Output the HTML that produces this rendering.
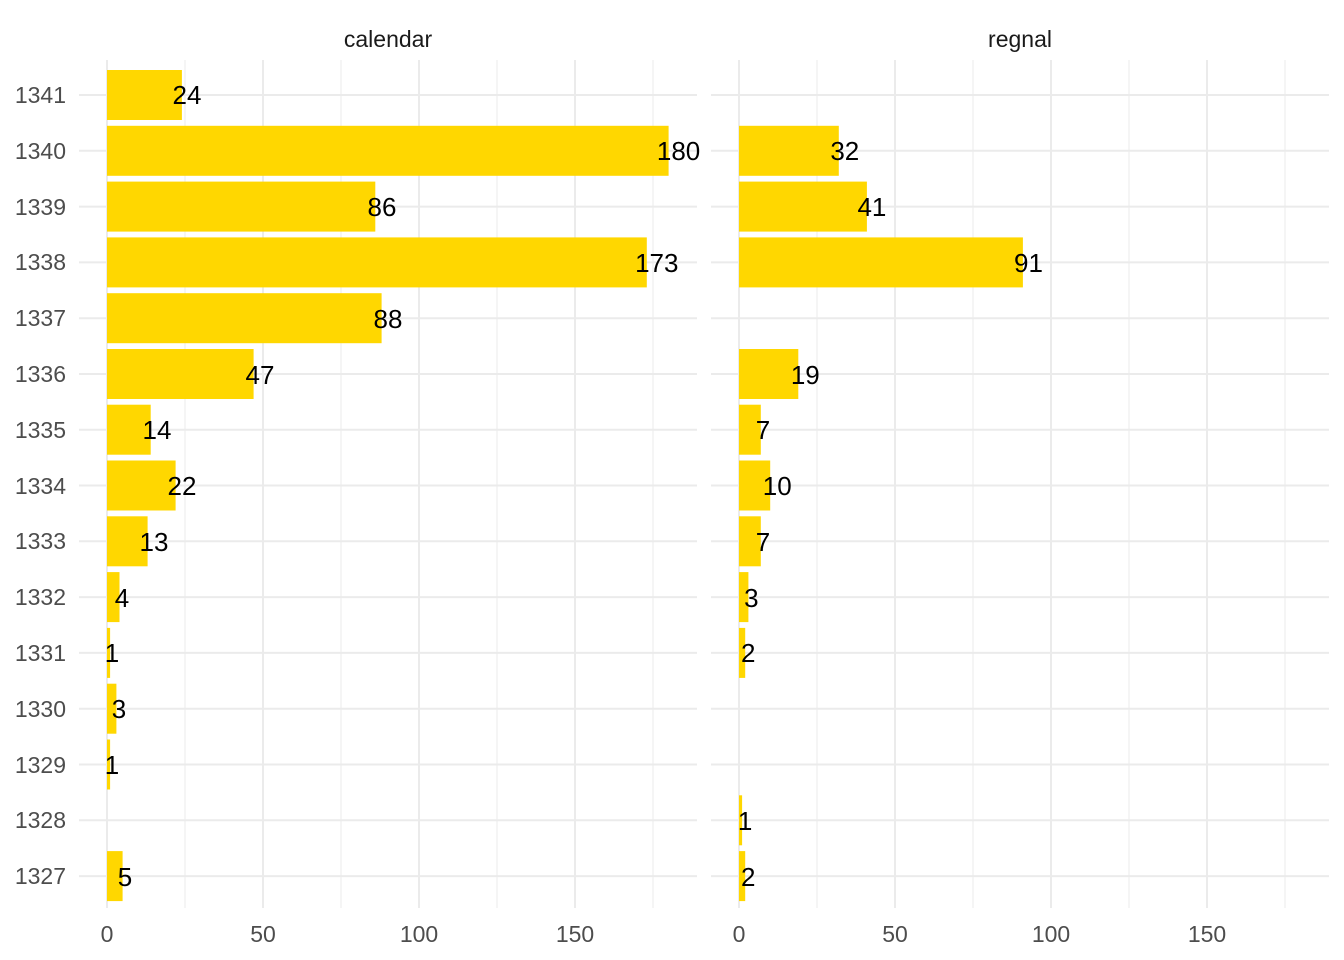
<!DOCTYPE html>
<html><head><meta charset="utf-8"><style>body{margin:0;background:#fff}svg{display:block}</style></head><body>
<svg width="1344" height="960" xmlns="http://www.w3.org/2000/svg" font-family="Liberation Sans, Arial, sans-serif">
<g stroke="#ebebeb">
<g stroke-width="1"><line x1="185" y1="60" x2="185" y2="908"/><line x1="341" y1="60" x2="341" y2="908"/><line x1="497" y1="60" x2="497" y2="908"/><line x1="653" y1="60" x2="653" y2="908"/>
<line x1="817" y1="60" x2="817" y2="908"/><line x1="973" y1="60" x2="973" y2="908"/><line x1="1129" y1="60" x2="1129" y2="908"/><line x1="1285" y1="60" x2="1285" y2="908"/></g>
<g stroke-width="2"><line x1="107" y1="60" x2="107" y2="908"/><line x1="263" y1="60" x2="263" y2="908"/><line x1="419" y1="60" x2="419" y2="908"/><line x1="575" y1="60" x2="575" y2="908"/>
<line x1="739" y1="60" x2="739" y2="908"/><line x1="895" y1="60" x2="895" y2="908"/><line x1="1051" y1="60" x2="1051" y2="908"/><line x1="1207" y1="60" x2="1207" y2="908"/></g>
<g stroke-width="2">
<line x1="79" x2="697" y1="95" y2="95"/><line x1="79" x2="697" y1="150.8" y2="150.8"/><line x1="79" x2="697" y1="206.6" y2="206.6"/><line x1="79" x2="697" y1="262.4" y2="262.4"/><line x1="79" x2="697" y1="318.2" y2="318.2"/><line x1="79" x2="697" y1="374" y2="374"/><line x1="79" x2="697" y1="429.7" y2="429.7"/><line x1="79" x2="697" y1="485.5" y2="485.5"/><line x1="79" x2="697" y1="541.3" y2="541.3"/><line x1="79" x2="697" y1="597.1" y2="597.1"/><line x1="79" x2="697" y1="652.9" y2="652.9"/><line x1="79" x2="697" y1="708.7" y2="708.7"/><line x1="79" x2="697" y1="764.5" y2="764.5"/><line x1="79" x2="697" y1="820.3" y2="820.3"/><line x1="79" x2="697" y1="876.1" y2="876.1"/>
<line x1="711" x2="1329" y1="95" y2="95"/><line x1="711" x2="1329" y1="150.8" y2="150.8"/><line x1="711" x2="1329" y1="206.6" y2="206.6"/><line x1="711" x2="1329" y1="262.4" y2="262.4"/><line x1="711" x2="1329" y1="318.2" y2="318.2"/><line x1="711" x2="1329" y1="374" y2="374"/><line x1="711" x2="1329" y1="429.7" y2="429.7"/><line x1="711" x2="1329" y1="485.5" y2="485.5"/><line x1="711" x2="1329" y1="541.3" y2="541.3"/><line x1="711" x2="1329" y1="597.1" y2="597.1"/><line x1="711" x2="1329" y1="652.9" y2="652.9"/><line x1="711" x2="1329" y1="708.7" y2="708.7"/><line x1="711" x2="1329" y1="764.5" y2="764.5"/><line x1="711" x2="1329" y1="820.3" y2="820.3"/><line x1="711" x2="1329" y1="876.1" y2="876.1"/>
</g></g>
<g fill="#ffd700">
<rect x="107" y="70" width="74.9" height="50"/><rect x="107" y="125.8" width="561.6" height="50"/><rect x="107" y="181.6" width="268.3" height="50"/><rect x="107" y="237.4" width="539.8" height="50"/><rect x="107" y="293.2" width="274.6" height="50"/><rect x="107" y="349" width="146.6" height="50"/><rect x="107" y="404.7" width="43.7" height="50"/><rect x="107" y="460.5" width="68.6" height="50"/><rect x="107" y="516.3" width="40.6" height="50"/><rect x="107" y="572.1" width="12.5" height="50"/><rect x="107" y="627.9" width="3.1" height="50"/><rect x="107" y="683.7" width="9.4" height="50"/><rect x="107" y="739.5" width="3.1" height="50"/><rect x="107" y="851.1" width="15.6" height="50"/>
<rect x="739" y="125.8" width="99.8" height="50"/><rect x="739" y="181.6" width="127.9" height="50"/><rect x="739" y="237.4" width="283.9" height="50"/><rect x="739" y="349" width="59.3" height="50"/><rect x="739" y="404.7" width="21.8" height="50"/><rect x="739" y="460.5" width="31.2" height="50"/><rect x="739" y="516.3" width="21.8" height="50"/><rect x="739" y="572.1" width="9.4" height="50"/><rect x="739" y="627.9" width="6.2" height="50"/><rect x="739" y="795.3" width="3.1" height="50"/><rect x="739" y="851.1" width="6.2" height="50"/>
</g>
<g font-size="26" fill="#000" text-anchor="middle">
<text x="187" y="104">24</text><text x="678.6" y="160">180</text><text x="382" y="216">86</text><text x="656.8" y="272">173</text><text x="388" y="328">88</text><text x="260" y="384">47</text><text x="157" y="439">14</text><text x="182" y="495">22</text><text x="154" y="551">13</text><text x="122" y="607">4</text><text x="112" y="662">1</text><text x="119" y="718">3</text><text x="112" y="774">1</text><text x="125" y="886">5</text>
<text x="844.8" y="160">32</text><text x="871.9" y="216">41</text><text x="1028.5" y="272">91</text><text x="805.3" y="384">19</text><text x="763" y="439">7</text><text x="777.2" y="495">10</text><text x="763" y="551">7</text><text x="751.4" y="607">3</text><text x="748.2" y="662">2</text><text x="745.1" y="830">1</text><text x="748.2" y="886">2</text>
</g>
<g font-size="23" fill="#4d4d4d" text-anchor="end">
<text x="66" y="103">1341</text><text x="66" y="159">1340</text><text x="66" y="215">1339</text><text x="66" y="270">1338</text><text x="66" y="326">1337</text><text x="66" y="382">1336</text><text x="66" y="438">1335</text><text x="66" y="494">1334</text><text x="66" y="549">1333</text><text x="66" y="605">1332</text><text x="66" y="661">1331</text><text x="66" y="717">1330</text><text x="66" y="773">1329</text><text x="66" y="828">1328</text><text x="66" y="884">1327</text>
</g>
<g font-size="23" fill="#4d4d4d" text-anchor="middle">
<text x="107" y="942">0</text><text x="263" y="942">50</text><text x="419" y="942">100</text><text x="575" y="942">150</text>
<text x="739" y="942">0</text><text x="895" y="942">50</text><text x="1051" y="942">100</text><text x="1207" y="942">150</text>
</g>
<g font-size="23" fill="#1a1a1a" text-anchor="middle">
<text x="388" y="47">calendar</text><text x="1020" y="47">regnal</text>
</g>
</svg>
</body></html>
